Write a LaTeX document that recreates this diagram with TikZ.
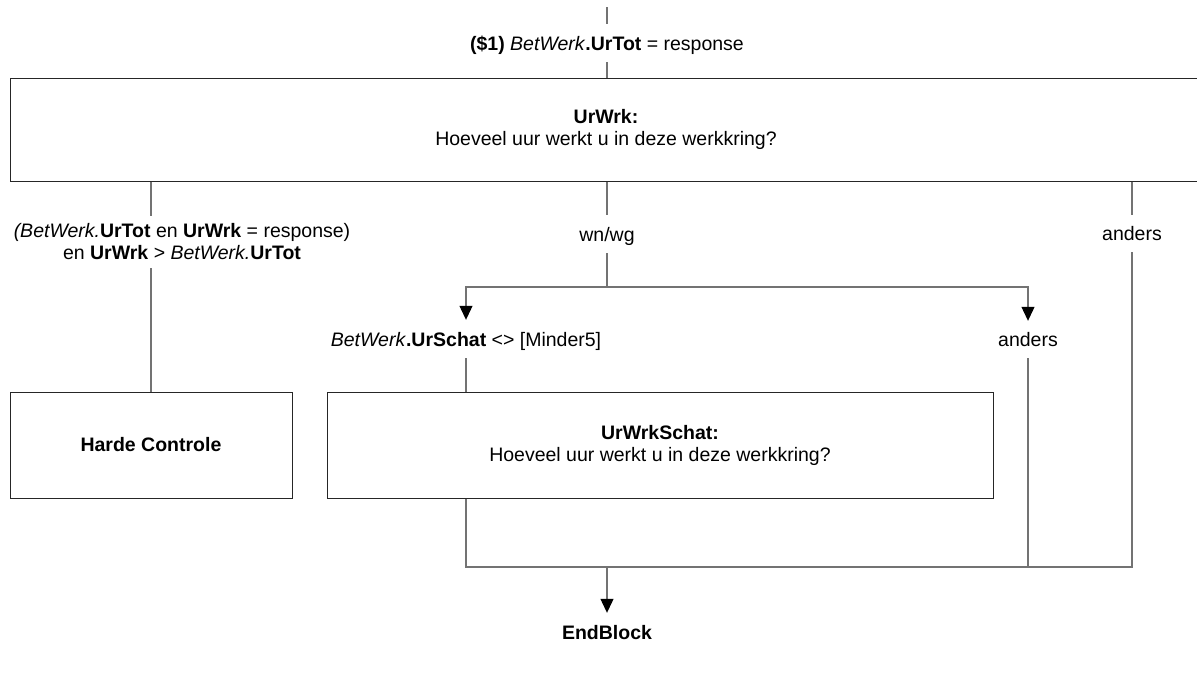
\documentclass[tikz,border=0pt]{standalone}
\usepackage{fontspec}
\setmainfont{Liberation Sans}
\usetikzlibrary{arrows.meta}
\begin{document}
\begin{tikzpicture}[x=1pt,y=-1pt,
  every node/.style={font=\fontsize{19.5}{22}\selectfont},
  lbl/.style={inner xsep=2pt,inner ysep=0pt,minimum height=38pt,align=center,text height=14pt,text depth=0pt},
  lbl2/.style={inner xsep=2pt,inner ysep=0pt,minimum height=52pt,align=center},
  box/.style={draw=black!85,line width=1pt,align=center,inner sep=0pt},
  conn/.style={draw=black!55,line width=1.1pt},
  arr/.style={conn,-{Triangle[width=13pt,length=14pt,color=black]}}]
\useasboundingbox[fill=white] (0,0) rectangle (1197,675);

% nodes
\coordinate (in) at (607,7);
\node[lbl] (toplbl) at (607,43) {\textbf{(\$1)} \textit{BetWerk}\textbf{.UrTot} = response};
\node[box,minimum width=1192pt,minimum height=103pt] (urwrk) at (606,129.5)
  {\textbf{UrWrk:}\\Hoeveel uur werkt u in deze werkkring?};

\node[lbl2] (lcond) at (182,242)
  {\textit{(BetWerk.}\textbf{UrTot} en \textbf{UrWrk} = response)\\en \textbf{UrWrk} > \textit{BetWerk.}\textbf{UrTot}};
\node[lbl] (wnwg) at (607,234) {wn/wg};
\node[lbl,minimum height=37pt] (andR) at (1132,233.5) {anders};

\coordinate (sp) at (607,287);
\node[lbl] (cond) at (466,339) {\textit{BetWerk}\textbf{.UrSchat} <> [Minder5]};
\node[lbl,minimum height=37pt] (andM) at (1028,339.5) {anders};

\node[box,minimum width=282pt,minimum height=106pt] (harde) at (151,445) {\textbf{Harde Controle}};
\node[box,minimum width=666pt,minimum height=106pt] (schat) at (660,445)
  {\textbf{UrWrkSchat:}\\Hoeveel uur werkt u in deze werkkring?};

\coordinate (jn) at (607,567);
\node[lbl] (endb) at (607,632) {\textbf{EndBlock}};

% connectors
\draw[conn] (in) -- (toplbl.north);
\draw[conn] (toplbl.south) -- (toplbl.south |- urwrk.north);

\draw[conn] (harde.north |- urwrk.south) -- (harde.north |- lcond.north);
\draw[conn] (harde.north |- lcond.south) -- (harde.north);

\draw[conn] (wnwg.north |- urwrk.south) -- (wnwg.north);
\draw[conn] (wnwg.south) -- (sp);
\draw[arr] (sp) -| (cond.north);
\draw[arr] (sp) -| (andM.north);

\draw[conn] (andR.north |- urwrk.south) -- (andR.north);

\draw[conn] (cond.south) -- (cond.south |- schat.north);
\draw[conn] (cond.south |- schat.south) |- (andR.south |- jn) -- (andR.south);
\draw[conn] (andM.south) -- (andM.south |- jn);
\draw[arr] (jn) -- (endb.north);
\end{tikzpicture}
\end{document}
